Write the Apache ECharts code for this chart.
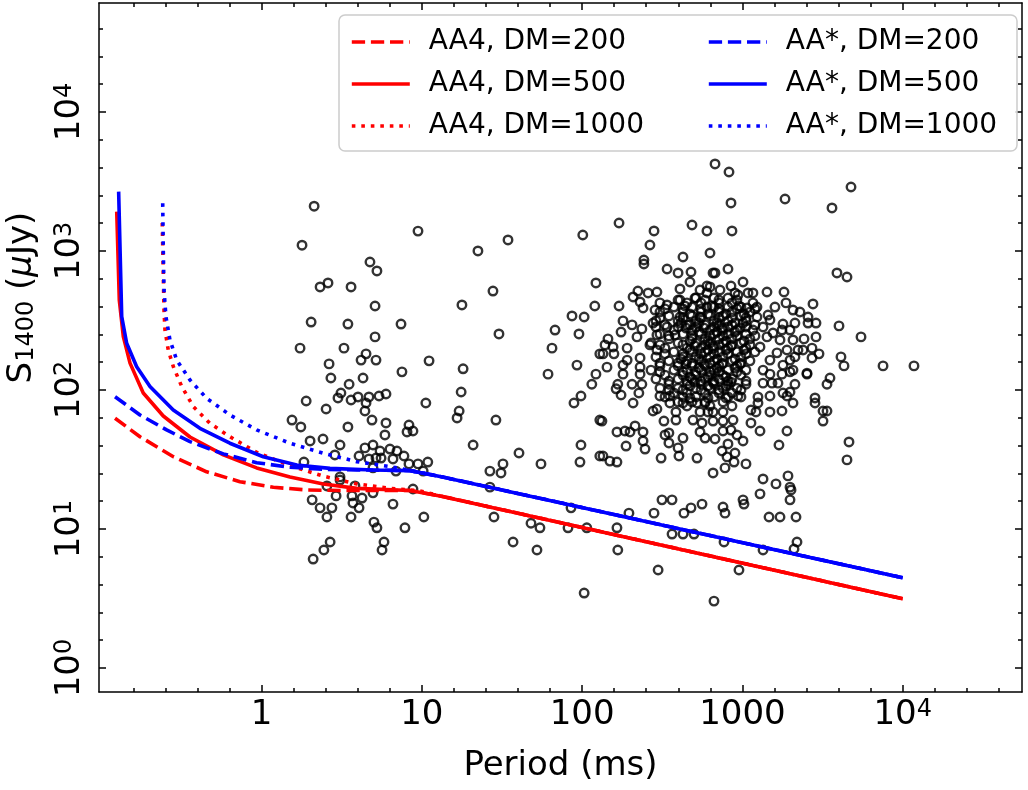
<!DOCTYPE html>
<html><head><meta charset="utf-8">
<script src="https://cdn.jsdelivr.net/npm/echarts@6/dist/echarts.min.js"></script>
<style>html,body{margin:0;padding:0;background:#fff}#chart{width:1028px;height:790px}</style>
</head><body><div id="chart"></div>
<script>
// ---- axis extents (raw units) ----
const periodRange = [0.0969, 55500];   // ms
const fluxRange = [0.672, 60800];      // microJy
const xMajorTicks = [1, 10, 100, 1000, 10000];
const xTickLabels = ['1', '10', '100', '1000', '10^4'];
const yMajorTicks = [1, 10, 100, 1000, 10000];
const yTickLabels = ['10^0', '10^1', '10^2', '10^3', '10^4'];
const legendLeft = ['AA4, DM=200', 'AA4, DM=500', 'AA4, DM=1000'];
const legendRight = ['AA*, DM=200', 'AA*, DM=500', 'AA*, DM=1000'];

// ---- sensitivity curves [period ms, S1400 microJy] ----
const aa4_dm200 = [[0.122,62.6],[0.1746,46.1],[0.282,33.1],[0.455,25.8],[0.734,21.9],[1.185,19.95],[1.914,19.1],[3.09,18.9],[8.44,18.9],[13.0,17.3],[10000,3.15]];
const aa4_dm500 = [[0.125,1918],[0.1297,444],[0.1374,242],[0.1513,156],[0.183,95.2],[0.244,65.0],[0.358,45.9],[0.578,34.1],[0.933,27.5],[1.506,23.7],[2.43,21.1],[3.93,19.6],[8.44,18.9],[13.0,17.3],[10000,3.15]];
const aa4_dm1000 = [[0.2404,1590],[0.2465,376],[0.250,270],[0.262,194],[0.282,147],[0.318,106],[0.376,75.8],[0.477,57.5],[0.636,46.1],[0.951,35.2],[1.506,28.6],[2.43,24.0],[3.93,21.1],[6.33,19.6],[9.75,18.8],[13.0,17.3],[10000,3.15]];
const aas_dm200 = [[0.122,89.5],[0.1746,66.1],[0.256,51.6],[0.358,42.5],[0.578,34.7],[0.933,30.0],[1.506,27.8],[2.43,26.9],[3.93,26.6],[8.44,26.3],[13.0,23.9],[10000,4.46]];
const aas_dm500 = [[0.1285,2672],[0.1343,337],[0.1442,217],[0.1665,147],[0.2015,106],[0.2816,71.8],[0.413,53.0],[0.635,41.4],[1.026,33.1],[1.659,28.9],[2.674,27.3],[4.98,26.6],[8.44,26.3],[13.0,23.9],[10000,4.46]];
const aas_dm1000 = [[0.242,2204],[0.244,1016],[0.2465,524],[0.2535,337],[0.2685,229],[0.296,164],[0.358,118],[0.455,87.1],[0.636,66.1],[0.933,51.6],[1.506,41.4],[2.43,35.1],[3.93,30.5],[6.33,28.1],[13.0,23.9],[10000,4.46]];

// ---- pulsars [period ms, S1400 microJy] ----
const pulsars = [
[2.13,2100],[9.47,1390],[1.79,1100],[4.75,833],[5.25,718],[2.32,551],[2.60,589],[3.62,551],[5.11,402],[2.04,308],[3.46,298],[7.42,298],[5.11,241],[1.74,200],[3.27,200],[4.49,182],[4.18,164],[5.18,164],[11.1,162],[2.64,154],[7.52,135],[2.71,122],[4.30,122],[3.52,110],[3.13,95.1],[3.00,87.6],[3.62,84.7],[4.00,89.1],[4.68,89.1],[4.49,80.6],[5.41,90.5],[5.98,93.6],[1.90,83.3],[10.6,80.6],[2.53,73.0],[4.42,70.6],[1.55,60.8],[1.76,54.2],[4.89,60.8],[5.98,57.9],[3.46,54.2],[8.32,56.0],[8.09,49.9],[8.81,50.7],[5.89,47.5],[2.01,43.0],[2.42,44.4],[3.09,40.2],[2.87,34.1],[4.42,38.3],[4.96,40.2],[5.49,36.4],[6.33,37.6],[7.00,36.4],[4.06,33.5],[4.68,31.9],[5.18,32.4],[5.57,32.4],[6.61,31.9],[7.74,33.5],[8.32,29.4],[9.47,29.4],[10.9,30.3],[6.90,26.1],[10.2,26.1],[1.84,30.3],[4.96,27.5],[3.09,23.7],[3.09,22.5],[2.56,20.4],[3.83,20.4],[2.92,17.3],[3.67,17.3],[4.24,16.7],[4.96,18.2],[8.81,19.4],[2.07,16.2],[3.72,15.4],[4.06,14.2],[2.32,14.2],[2.75,14.2],[2.56,12.2],[3.62,12.2],[6.61,15.1],[10.3,12.2],[5.03,11.2],[5.25,10.2],[7.85,10.2],[5.81,8.06],[5.65,7.06],[2.68,8.06],[2.45,7.06],[2.10,6.08],
[101,1303],[34.5,1200],[22.4,1000],[122,589],[27.8,515],[17.8,409],[120,402],[86.5,341],[103,335],[67.8,270],[30.3,253],[95.6,253],[64.9,200],[129,182],[18.1,142],[92.9,151],[61.3,130],[122,130],[115,110],[17.6,96.7],[98.4,90.5],[89.0,80.6],[17.1,70.6],[16.6,62.9],[29.0,60.8],[129,60.8],[20.9,40.2],[98.4,40.2],[40.4,35.2],[97.0,30.3],[129,33.5],[32.1,29.4],[26.6,26.1],[31.2,25.3],[55.4,29.4],[26.6,20.0],[85.3,14.2],[28.2,12.2],[48.0,11.0],[54.6,10.2],[81.7,10.2],[107,10.2],[37.1,8.06],[52.3,7.06],[103,3.46],
[165,10.2],[167,7.06],[196,13.0],[281,13.0],[315,16.2],[364,16.2],[298,5.07],[364,9.20],[426,9.20],[499,9.20],[432,13.0],[478,14.2],[560,15.1],[757,14.4],[779,13.0],[768,8.06],[665,3.03],[952,5.07],[1023,15.1],[1288,17.9],[1466,12.2],[1717,12.2],[1982,16.2],[2011,19.1],[2160,12.2],[1345,7.06],[2099,7.18],[2191,8.06],
[3520,122],[3371,110],[2838,87.6],[2838,80.6],[3184,70.6],[3371,70.6],[3184,59.8],[4624,42.3],[4493,31.4],[2529,130],[2128,110],[2069,80.6],[1897,90.5],[1766,70.6],[1486,69.5],[1486,90.5],[1897,50.7],[1691,40.2],[1288,50.7],[1131,57.9],[1053,29.4],[939,90.5],[1345,22.9],[1620,21.1],[1925,24.1],[1982,20.0],[1009,16.2],[656,25.3],[779,27.5],[802,33.0],[887,30.3],[746,36.4],[899,35.2],[813,40.9],[1009,43.0],[675,44.4],[925,47.5],[757,50.7],[849,51.5],[874,60.8],[757,59.8],[656,59.8],[656,69.5],[757,69.5],[1131,71.8],[1216,69.5],[1251,80.6],[1251,89.1],[1345,112],[1530,112],[1667,112],[1486,130],[1766,130],[1982,135],[1791,95.1],[1982,96.7],
[3890,695],[4493,650],[4006,289],[5495,241],[4121,173],[4305,149],[7540,149],[11760,149],[2757,416],[2423,233],[2879,241],[3006,182],[2718,200],[2718,170],[2879,303],[2567,303],[2567,335],[2287,364],[2069,376],[1871,423],[2128,303],[1982,270],[1791,298],[1766,270],[1818,507],[1424,507],[1596,395],[1445,346],[1486,319],[1233,335],[1164,423],[1233,395],[1164,499],[1084,499],[1068,389],[1009,598],[939,482],[849,560],[899,499],[813,742],[675,695],[628,967],[628,551],[1009,303],[1164,270],[2069,229],[2223,194],[2388,194],[2128,173],[1897,194],[1982,164],[2529,132],[1644,185],[1717,229],[1552,257],[1345,284],[1424,241],[1288,204],[1791,151],[1486,164],[1345,139],[2069,139],
[675,4227],[825,3700],[849,2215],[1845,2366],[4760,2886],[3622,2039],[170,1590],[281,1393],[485,1538],[601,1393],[861,1393],[265,1104],[243,861],
[426,905],[243,806],[339,742],[397,695],[478,706],[656,695],[471,598],[601,560],[408,533],[293,507],[258,499],[223,515],[208,467],[230,430],[170,402],[240,389],[285,376],[339,409],[408,444],[506,459],[601,499],[180,314],[205,294],[236,275],[175,261],[220,241],[145,233],[139,211],[156,204],[191,200],[135,182],[158,182],[191,164],[180,151],[143,146],[230,170],[230,146],[230,130],[265,211],[293,249],[339,284],[277,303],[408,335],[471,294],[544,335],[601,395],[380,249],[293,194],
[180,130],[167,110],[163,102],[175,92.0],[205,110],[236,110],[226,95.1],[208,80.6],[277,70.6],[293,73.0],[133,59.8],[165,49.9],[185,50.7],[199,49.9],[214,55.1],[240,49.9],[240,43.0],[247,37.6],[188,39.5],[135,33.5],[149,30.8],[165,30.3],[311,32.4],[329,47.5],[348,49.1],[348,41.6],[426,45.1],[397,38.3],[402,33.5],[521,32.4],[324,59.8],[385,60.8],[385,69.5],[353,80.6],[306,90.5],[353,90.5],[426,80.6],[492,60.8],[560,57.9],[544,49.9],[585,45.1],[521,80.6],[585,80.6],[544,69.5],[610,69.5],
[513,459],[665,459],[813,459],
[306,423],[451,423],[552,423],[714,423],[861,423],
[374,395],[485,395],[665,395],[813,395],[980,395],
[306,364],[426,364],[552,364],[714,364],[861,364],[1115,364],
[348,341],[485,341],[628,341],[757,341],[980,341],
[289,314],[397,314],[513,314],[665,314],[813,314],[1053,314],
[329,294],[451,294],[585,294],[714,294],[861,294],[1198,294],
[374,270],[485,270],[628,270],[757,270],[925,270],
[306,253],[426,253],[552,253],[665,253],[813,253],[1053,253],
[348,233],[485,233],[585,233],[714,233],[861,233],[1115,233],
[269,218],[397,218],[513,218],[628,218],[757,218],[980,218],
[329,200],[451,200],[552,200],[665,200],[813,200],[1053,200],
[374,188],[485,188],[585,188],[714,188],[925,188],[1198,188],
[289,173],[426,173],[513,173],[628,173],[757,173],[980,173],
[348,162],[451,162],[552,162],[665,162],[861,162],[1115,162],
[306,149],[397,149],[485,149],[585,149],[714,149],[925,149],
[269,139],[374,139],[451,139],[552,139],[665,139],[813,139],[1053,139],
[329,128],[426,128],[513,128],[628,128],[757,128],[980,128],
[289,120],[397,120],[485,120],[585,120],[714,120],[861,120],
[348,110],[451,110],[552,110],[665,110],[813,110],[1053,110],
[306,103],[397,103],[513,103],[628,103],[757,103],[925,103],
[374,95.1],[451,95.1],[585,95.1],[714,95.1],[861,95.1],
[329,89.1],[426,89.1],[513,89.1],[665,89.1],[813,89.1],[980,89.1],
[397,82.0],[485,82.0],[585,82.0],[757,82.0],
[451,76.7],[628,76.7],[861,76.7],
[397,444],[585,444],[714,444],[925,444],
[329,383],[426,383],[552,383],[714,383],[925,383],[1198,383],
[306,330],[426,330],[552,330],[714,330],[861,330],[1053,330],
[289,284],[397,284],[513,284],[665,284],[813,284],[1053,284],
[348,245],[485,245],[628,245],[757,245],[925,245],[1198,245],
[306,211],[426,211],[585,211],[714,211],[861,211],[1115,211],
[329,182],[426,182],[552,182],[665,182],[813,182],[1053,182],
[306,156],[397,156],[485,156],[628,156],[757,156],[980,156],
[306,135],[426,135],[513,135],[628,135],[714,135],[925,135],
[348,116],[451,116],[552,116],[665,116],[813,116],[1053,116],
[348,100],[426,100],[552,100],[714,100],[980,100],
[471,352],[610,352],[790,352],[1023,352],
[414,303],[536,303],[694,303],[899,303],
[536,261],[694,261],[899,261],
[471,225],[610,225],[790,225],[1023,225],
[471,194],[610,194],[790,194],[1023,194],
[414,167],[536,167],[694,167],[899,167],
[536,144],[694,144],[899,144],
[471,124],[610,124],[790,124],
[471,107],[610,107],[790,107],
[438,402],[646,402],[952,402],
[445,279],[576,279],[746,279],[966,279],
[506,207],[656,207],[849,207],
[445,154],[576,154],[746,154],[966,154],
[506,114],[656,114],[849,114],
[471,87.6],[610,87.6],[790,87.6],
[544,524],[725,524]
];

// ---------- build ----------
const L = Math.log10;
const toLog = arr => arr.map(d => [L(d[0]), L(d[1])]);
const xMin = L(periodRange[0]), xMax = L(periodRange[1]);
const yMin = L(fluxRange[0]), yMax = L(fluxRange[1]);
const xMajorLog = xMajorTicks.map(L);
const yMajorLog = yMajorTicks.map(L);
function minorTicks(lo, hi) {
  const out = [];
  for (let k = Math.floor(lo); k <= Math.ceil(hi); k++) {
    for (let j = 1; j <= 4; j++) {
      const v = +(k + 0.2 * j).toFixed(3);
      if (v > lo && v < hi) out.push(v);
    }
  }
  return out;
}
const xMinorLog = minorTicks(xMin, xMax);
const yMinorLog = minorTicks(yMin, yMax);

function richLabel(txt) {
  const m = txt.split('^');
  return m.length > 1 ? '{b|' + m[0] + '}{s|' + m[1] + '}' : '{b|' + txt + '}';
}
function fmt(labels, majors) {
  return v => {
    const i = majors.findIndex(m => Math.abs(m - v) < 1e-6);
    return i < 0 ? '' : richLabel(labels[i]);
  };
}
const FONT = 'DejaVu Sans';
const tickRich = {
  b: { fontSize: 34, lineHeight: 34, verticalAlign: 'bottom', padding: [6, 0, 0, 0], color: '#000', fontFamily: FONT },
  s: { fontSize: 24, lineHeight: 24, verticalAlign: 'top', color: '#000', fontFamily: FONT }
};
const lineStyleAxis = { color: '#000', width: 1.5 };

function axisPair(pos, min, max, majors, minors, extra) {
  const major = Object.assign({
    type: 'value', position: pos, min: min, max: max,
    axisLine: { show: true, onZero: false, lineStyle: lineStyleAxis },
    axisTick: { show: true, inside: true, length: 7, lineStyle: lineStyleAxis, customValues: majors },
    axisLabel: { show: false },
    splitLine: { show: false }
  }, extra || {});
  const minor = {
    type: 'value', position: pos, min: min, max: max,
    axisLine: { show: false, onZero: false },
    axisTick: { show: true, inside: true, length: 4, lineStyle: lineStyleAxis, customValues: minors },
    axisLabel: { show: false },
    splitLine: { show: false }
  };
  return [major, minor];
}

const xAxes = [].concat(
  axisPair('bottom', xMin, xMax, xMajorLog, xMinorLog, {
    axisLabel: { show: true, customValues: xMajorLog, formatter: fmt(xTickLabels, xMajorLog), margin: 6, rich: tickRich },
    name: 'Period (ms)', nameLocation: 'middle', nameGap: 57,
    nameTextStyle: { fontSize: 34, color: '#000', fontFamily: FONT }
  }),
  axisPair('top', xMin, xMax, xMajorLog, xMinorLog)
);
const yAxes = [].concat(
  axisPair('left', yMin, yMax, yMajorLog, yMinorLog, {
    axisLabel: { show: true, customValues: yMajorLog, formatter: fmt(yTickLabels, yMajorLog), rotate: 90, margin: 12, rich: tickRich },
    name: '{n|S}{sub|1400}{n| (}{mu|μ}{n|Jy)}', nameLocation: 'middle', nameGap: 52,
    nameTextStyle: {
      color: '#000', fontFamily: FONT, fontSize: 34, padding: [0, 0, 0, 100],
      rich: {
        n: { fontSize: 34, lineHeight: 34, verticalAlign: 'top', color: '#000', fontFamily: FONT },
        sub: { fontSize: 24, lineHeight: 24, verticalAlign: 'bottom', padding: [16, 0, 0, 0], color: '#000', fontFamily: FONT },
        mu: { fontSize: 34, lineHeight: 34, verticalAlign: 'top', fontStyle: 'italic', color: '#000', fontFamily: FONT }
      }
    }
  }),
  axisPair('right', yMin, yMax, yMajorLog, yMinorLog)
);

const LW = 3.6;
const DASH = [13.3, 5.8], DOT = [3.6, 5.9];
function curve(name, data, color, type) {
  return {
    name: name, type: 'line', data: toLog(data), xAxisIndex: 0, yAxisIndex: 0,
    showSymbol: false, symbol: 'none', smooth: false, z: 3,
    lineStyle: { color: color, width: LW, type: type, cap: 'butt' },
    itemStyle: { color: color }
  };
}
const legendCommon = {
  orient: 'vertical', top: 23, itemWidth: 58, itemHeight: 14, itemGap: 14, z: 6,
  itemStyle: { opacity: 0 },
  lineStyle: { width: LW },
  textStyle: { fontSize: 28, lineHeight: 28, color: '#000', fontFamily: FONT, padding: [0, 0, 0, 14] }
};

const chart = echarts.init(document.getElementById('chart'), null, { renderer: 'canvas' });
chart.setOption({
  animation: false,
  backgroundColor: '#fff',
  textStyle: { fontFamily: FONT },
  grid: { left: 99, right: 6, top: 3, bottom: 98, containLabel: false, outerBoundsMode: 'none' },
  xAxis: xAxes,
  yAxis: yAxes,
  graphic: [{
    type: 'rect', z: 5,
    shape: { x: 339, y: 15, width: 678, height: 136, r: 6 },
    style: { fill: 'rgba(255,255,255,0.85)', stroke: '#cccccc', lineWidth: 1.5 }
  }],
  legend: [
    Object.assign({ data: legendLeft, left: 345 }, legendCommon),
    Object.assign({ data: legendRight, left: 702 }, legendCommon)
  ],
  series: [
    { name: 'pulsars', type: 'scatter', data: toLog(pulsars), xAxisIndex: 0, yAxisIndex: 0, z: 2,
      symbol: 'circle', symbolSize: 8.5,
      itemStyle: { color: 'rgba(0,0,0,0)', borderColor: '#000', borderWidth: 2.4 } },
    curve(legendLeft[0], aa4_dm200, '#ff0000', DASH),
    curve(legendLeft[1], aa4_dm500, '#ff0000', 'solid'),
    curve(legendLeft[2], aa4_dm1000, '#ff0000', DOT),
    curve(legendRight[0], aas_dm200, '#0000ff', DASH),
    curve(legendRight[1], aas_dm500, '#0000ff', 'solid'),
    curve(legendRight[2], aas_dm1000, '#0000ff', DOT)
  ]
});
</script></body></html>
